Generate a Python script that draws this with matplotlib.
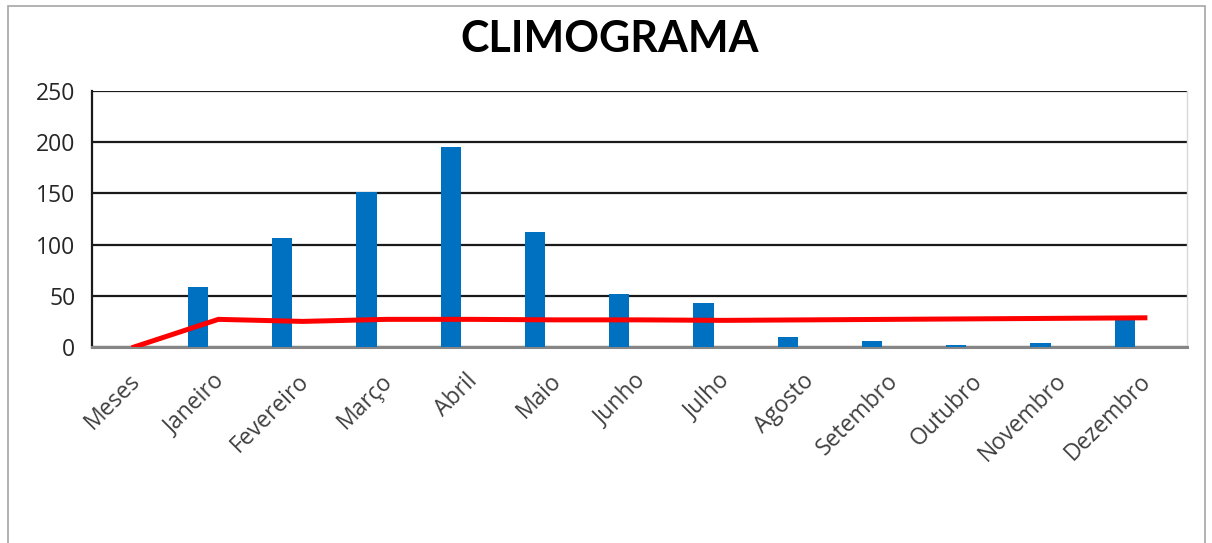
import numpy as np
import matplotlib.pyplot as plt
from matplotlib.patches import Rectangle
from matplotlib.transforms import ScaledTranslation

# Chart data
categories = ['Meses', 'Janeiro', 'Fevereiro', 'Março', 'Abril', 'Maio', 'Junho',
              'Julho', 'Agosto', 'Setembro', 'Outubro', 'Novembro', 'Dezembro']
precipitation = [0, 59, 106, 151, 195, 112, 52, 43, 10, 6, 1.5, 3.5, 27]
temperature = [0, 27, 25, 27, 27, 26.5, 26.5, 26, 26.5, 27, 27.5, 28, 28.5]
y_ticks = [0, 50, 100, 150, 200, 250]

plt.rcParams['font.family'] = ['Open Sans', 'DejaVu Sans']

fig = plt.figure(figsize=(12.12, 5.43), dpi=100)
fig.patch.set_facecolor('white')

# chart border (top/left/right visible, bottom runs off the image)
fig.patches.append(Rectangle((8 / 1212, -0.05), (1205 - 8) / 1212, 1.05 - 6 / 543,
                             transform=fig.transFigure, fill=False,
                             edgecolor='#a6a6a6', linewidth=1.2))

ax = fig.add_axes([92 / 1212, 196 / 543, (1187 - 92) / 1212, 256 / 543])

x = np.arange(len(categories))
ax.bar(x - 0.24, precipitation, width=0.24, color='#0070C0', zorder=3)
ax.plot(x, temperature, color='#FF0000', linewidth=3.6, zorder=4,
        solid_joinstyle='miter')

ax.set_xlim(-0.5, len(categories) - 0.5)
ax.set_ylim(0, 250)
ax.set_yticks(y_ticks)
ax.yaxis.grid(True, color='#1a1a1a', linewidth=1.6, zorder=0)
ax.set_axisbelow(True)

ax.tick_params(axis='y', length=0, pad=12, labelsize=16.5, labelcolor='#262626')
ax.tick_params(axis='x', length=0, pad=16, labelsize=16.5, labelcolor='#404040')
ax.set_xticks(x)
ax.set_xticklabels(categories, rotation=45, ha='right', va='top',
                   rotation_mode='anchor')
for lbl in ax.get_xticklabels():
    lbl.set_transform(lbl.get_transform() + ScaledTranslation(-0.06, 0, fig.dpi_scale_trans))

ax.spines['left'].set_color('#1a1a1a')
ax.spines['left'].set_linewidth(1.6)
ax.spines['bottom'].set_color('#868686')
ax.spines['bottom'].set_linewidth(2.2)
ax.spines['right'].set_color('#d9d9d9')
ax.spines['right'].set_linewidth(1.0)
ax.spines['top'].set_visible(False)

fig.text(610 / 1212, 1 - 38.5 / 543, 'CLIMOGRAMA', ha='center', va='center',
         fontsize=31, fontweight='bold', color='black', family=['Lato', 'DejaVu Sans'])

fig.savefig('out.png', dpi=100)
